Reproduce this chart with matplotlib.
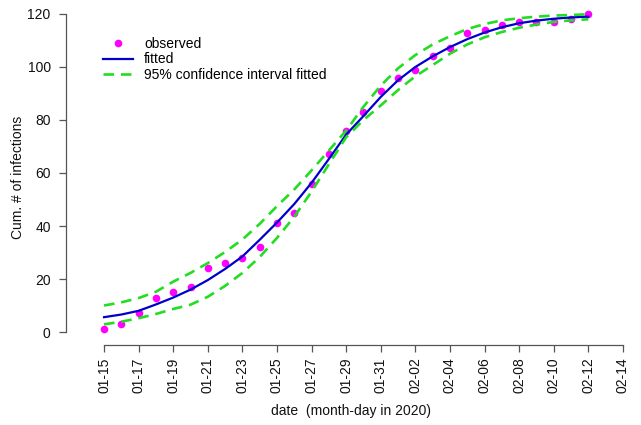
import numpy as np
import matplotlib
matplotlib.use("Agg")
from matplotlib import pyplot as plt

plt.rcParams['font.family'] = ['Liberation Sans', 'DejaVu Sans']

# days since 01-15 (2020)
days = np.arange(29)
tick_days = np.arange(0, 31, 2)
tick_labels = ["01-15", "01-17", "01-19", "01-21", "01-23", "01-25", "01-27",
               "01-29", "01-31", "02-02", "02-04", "02-06", "02-08", "02-10",
               "02-12", "02-14"]

observed = [1, 3, 7, 13, 15, 17, 24, 26, 28, 32, 41, 45, 56, 67, 76, 83, 91,
            96, 99, 104, 107, 113, 114, 116, 117, 117, 117, 118, 120]

fitted = [5.6, 6.6, 8.0, 10.4, 13.0, 16.0, 19.6, 23.8, 28.5, 34.8, 41.3, 48.3,
          56.3, 65.3, 74.5, 81.5, 88.7, 95.0, 100.0, 104.0, 107.5, 110.5,
          113.0, 115.0, 116.5, 117.5, 118.2, 118.7, 119.0]

ci_upper = [10.0, 11.2, 12.8, 15.2, 19.0, 22.3, 26.0, 30.2, 34.9, 40.8, 47.5,
            53.8, 61.0, 68.5, 76.0, 85.0, 93.0, 99.5, 104.5, 108.5, 111.6,
            114.3, 116.2, 117.6, 118.4, 119.0, 119.4, 119.6, 119.9]

ci_lower = [2.9, 3.9, 5.2, 6.8, 8.7, 10.3, 13.3, 17.4, 22.3, 28.3, 35.5, 43.5,
            53.0, 63.3, 73.5, 80.0, 85.5, 91.3, 96.5, 100.7, 105.0, 108.5,
            111.2, 113.2, 114.8, 116.0, 117.0, 117.6, 118.0]

fig = plt.figure(figsize=(6.41, 4.25), dpi=100)
ax = fig.add_axes([66 / 641, 80 / 425, 569 / 641, 335 / 425])

ax.plot(days, observed, 'o', color='#FF00FF', markersize=5.5,
        markeredgewidth=0, label='observed', zorder=2)
ax.plot(days, fitted, '-', color='#0000CC', lw=1.6, label='fitted', zorder=3)
ax.plot(days, ci_upper, '--', color='#22DD22', lw=1.9, dashes=(4, 2.6),
        label='95% confidence interval fitted', zorder=4)
ax.plot(days, ci_lower, '--', color='#22DD22', lw=1.9, dashes=(4, 2.6), zorder=4)

ax.set_xlim(-2.2, 30.7)
ax.set_ylim(-4.9, 121.5)

for s in ['top', 'right']:
    ax.spines[s].set_visible(False)
ax.spines['left'].set_bounds(0, 120)
ax.spines['bottom'].set_bounds(0, 30)
for s in ['left', 'bottom']:
    ax.spines[s].set_color('#555555')
    ax.spines[s].set_linewidth(0.9)

ax.set_yticks(np.arange(0, 121, 20))
ax.set_xticks(tick_days)
ax.set_xticklabels(tick_labels, rotation=90)
ax.tick_params(axis='both', colors='#555555', labelcolor='#111111',
               labelsize=10, length=5, width=0.9)
ax.tick_params(axis='x', pad=4)
ax.tick_params(axis='y', pad=6)

ax.set_xlabel('date  (month-day in 2020)', fontsize=10, color='#111111',
              labelpad=8)
ax.set_ylabel('Cum. # of infections', fontsize=10, color='#111111',
              labelpad=2)

ax.legend(loc='upper left', bbox_to_anchor=(0.052, 0.94), frameon=False,
          fontsize=10, handlelength=2.2, handletextpad=0.8,
          labelspacing=0.1, borderpad=0)

fig.savefig('out.png', dpi=100)
